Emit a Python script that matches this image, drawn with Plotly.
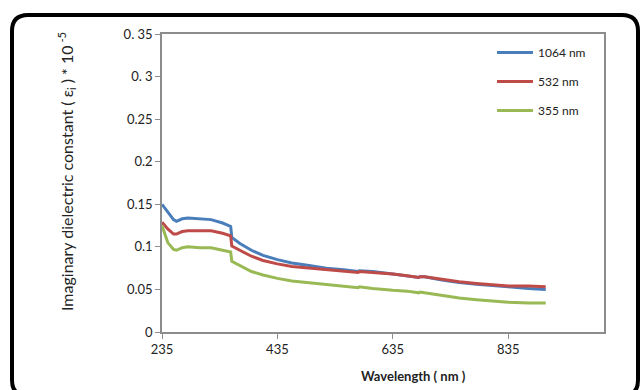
import plotly.graph_objects as go

# Wavelength samples (nm)
wavelength = [235, 245, 255, 260, 270, 280, 300, 320, 340, 354, 356, 370, 390, 410, 435,
              460, 490, 520, 550, 575, 577, 600, 635, 660, 680, 682, 690, 720, 750, 780,
              810, 835, 870, 900]

# Imaginary dielectric constant (x 10^-5) for each laser wavelength
eps_1064 = [0.150, 0.141, 0.132, 0.130, 0.133, 0.134, 0.133, 0.132, 0.128, 0.124, 0.111,
            0.104, 0.096, 0.090, 0.085, 0.081, 0.078, 0.075, 0.073, 0.071, 0.072, 0.071,
            0.068, 0.066, 0.064, 0.065, 0.065, 0.061, 0.058, 0.056, 0.054, 0.053, 0.051,
            0.050]
eps_532 = [0.129, 0.121, 0.115, 0.115, 0.118, 0.119, 0.119, 0.119, 0.116, 0.113, 0.101,
           0.096, 0.089, 0.084, 0.080, 0.077, 0.075, 0.073, 0.071, 0.070, 0.071, 0.070,
           0.068, 0.066, 0.064, 0.065, 0.065, 0.062, 0.059, 0.057, 0.055, 0.054, 0.054,
           0.053]
eps_355 = [0.125, 0.105, 0.097, 0.096, 0.099, 0.100, 0.099, 0.099, 0.096, 0.094, 0.083,
           0.078, 0.071, 0.067, 0.063, 0.060, 0.058, 0.056, 0.054, 0.052, 0.053, 0.051,
           0.049, 0.048, 0.046, 0.047, 0.046, 0.043, 0.040, 0.038, 0.036, 0.035, 0.034,
           0.034]

series_names = ["1064 nm", "532 nm", "355 nm"]
series_colors = ["#4a7ebb", "#be4b48", "#98b954"]

x_ticks = [235, 435, 635, 835]
y_ticks = [0, 0.05, 0.1, 0.15, 0.2, 0.25, 0.3, 0.35]
y_tick_text = ["0", "0.05", "0.1", "0.15", "0.2", "0.25", "0. 3", "0. 35"]

W, H = 642, 390
L, R, T, B = 162, 604, 34, 332  # plot area in pixels


def px(x):
    return (x - L) / (R - L)


def py(y):
    return (B - y) / (B - T)


fig = go.Figure()
for name, vals, col in zip(series_names, [eps_1064, eps_532, eps_355], series_colors):
    fig.add_trace(go.Scatter(x=wavelength, y=vals, mode="lines", name=name,
                             legendgroup=name,
                             line=dict(color=col, width=3)))

font = "Lato, 'Open Sans', sans-serif"
axis_common = dict(showline=True, linecolor="#8c8c8c", linewidth=1.5, mirror=True,
                   showgrid=False, zeroline=False, ticks="outside", ticklen=5,
                   tickcolor="#8c8c8c", tickfont=dict(family=font, size=13, color="#222"))

fig.update_xaxes(range=[235, 1001], tickvals=x_ticks, **axis_common)
fig.update_yaxes(range=[0, 0.35], tickvals=y_ticks, ticktext=y_tick_text, **axis_common)

# Outer rounded frame
x0, y0, x1, y1, r = 12, 15, 638, 396, 16
frame = (f"M {px(x0 + r)} {py(y0)} L {px(x1 - r)} {py(y0)} "
         f"Q {px(x1)} {py(y0)} {px(x1)} {py(y0 + r)} "
         f"L {px(x1)} {py(y1 - r)} Q {px(x1)} {py(y1)} {px(x1 - r)} {py(y1)} "
         f"L {px(x0 + r)} {py(y1)} Q {px(x0)} {py(y1)} {px(x0)} {py(y1 - r)} "
         f"L {px(x0)} {py(y0 + r)} Q {px(x0)} {py(y0)} {px(x0 + r)} {py(y0)} Z")

fig.update_layout(
    width=W, height=H,
    margin=dict(l=L, r=W - R, t=T, b=H - B),
    paper_bgcolor="white", plot_bgcolor="white",
    showlegend=True,
    legend=dict(x=px(492), y=py(38), xanchor="left", yanchor="top",
                bgcolor="rgba(0,0,0,0)", font=dict(family=font, size=12, color="#222"),
                tracegroupgap=10, itemwidth=36),
    shapes=[dict(type="path", path=frame, xref="paper", yref="paper",
                 line=dict(color="black", width=4), layer="above")],
    annotations=[
        dict(text="<b>Wavelength ( nm )</b>", x=px(413), y=py(376), xref="paper", yref="paper",
             showarrow=False, font=dict(family=font, size=13, color="#222"),
             xanchor="center", yanchor="middle"),
        dict(text="Imaginary dielectric constant ( ε<sub>i</sub> ) * 10<sup> -5</sup>",
             x=px(66), y=py(172), xref="paper", yref="paper", textangle=-90,
             showarrow=False, font=dict(family=font, size=16, color="#222"),
             xanchor="center", yanchor="middle"),
    ],
)

fig.write_html("out.html")
